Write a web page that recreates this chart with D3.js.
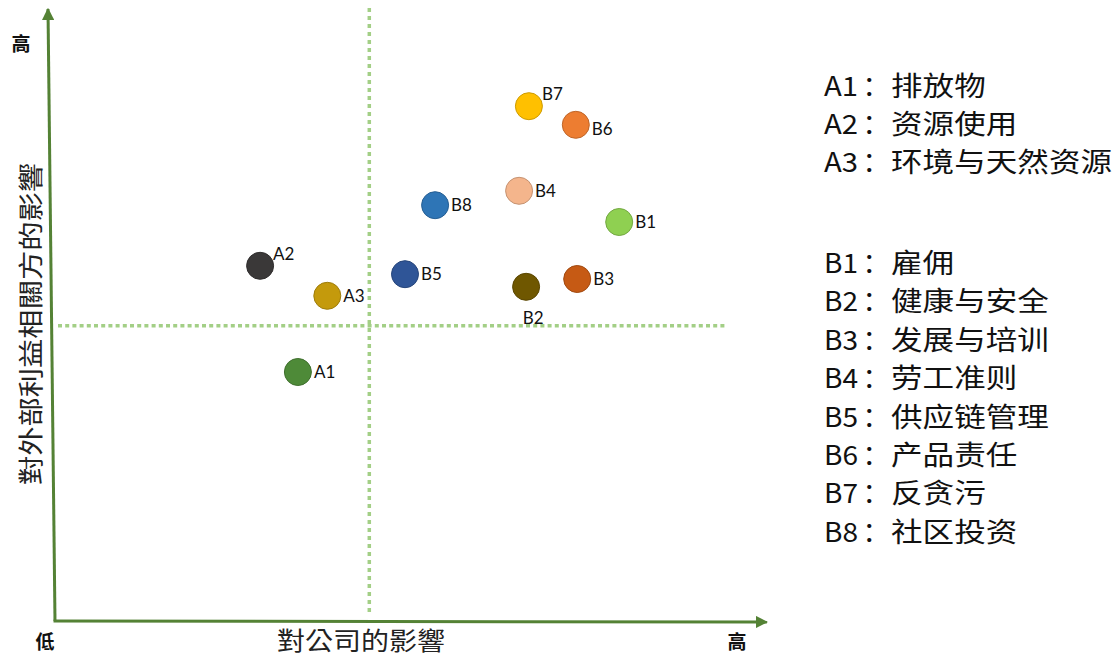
<!DOCTYPE html>
<html>
<head>
<meta charset="utf-8">
<script src="https://cdn.jsdelivr.net/npm/d3@7"></script>
<style>
  html, body { margin: 0; padding: 0; background: #ffffff; }
  svg { display: block; }
</style>
</head>
<body>
<svg id="chart" width="1120" height="659"></svg>
<script>
// ---------------- data ----------------
const codes   = ["A1", "A2", "A3", "B1", "B2", "B3", "B4", "B5", "B6", "B7", "B8"];
const companyImpact     = [34.7, 29.3, 38.9, 80.6, 67.3, 74.6, 66.3, 50.0, 74.4, 67.7, 54.3];
const stakeholderImpact = [41.5, 59.2, 54.2, 66.5, 55.7, 57.0, 71.7, 57.8, 82.7, 85.8, 69.3];
const names = ["排放物", "资源使用", "环境与天然资源",
               "雇佣", "健康与安全", "发展与培训", "劳工准则",
               "供应链管理", "产品责任", "反贪污", "社区投资"];
const xDivider = 44.9;
const yDivider = 49.2;
const xTitle = "對公司的影響";
const yTitle = "對外部利益相關方的影響";
const lowLabel = "低";
const highLabel = "高";

// ---------------- styles ----------------
const colors = ["#4e8a38", "#3a3838", "#c49a0c", "#8fd051", "#6f5700", "#c65a14",
                "#f4b58c", "#2f5597", "#ed7d31", "#ffc000", "#2e75b6"];
const labelPlacement = { A2: "ur", B7: "ur", B6: "dr", B2: "b" };

const svg = d3.select("#chart");
const x = d3.scaleLinear().domain([0, 100]).range([55, 755]);
const y = d3.scaleLinear().domain([0, 100]).range([621, 21]);

const axisColor = "#548235";
const dotColor = "#a3cf86";

// arrow marker
const defs = svg.append("defs");
defs.append("marker")
  .attr("id", "arrow").attr("viewBox", "0 0 10 10")
  .attr("refX", 9).attr("refY", 5)
  .attr("markerWidth", 4.2).attr("markerHeight", 4.2)
  .attr("markerUnits", "strokeWidth")
  .attr("orient", "auto")
  .append("path").attr("d", "M0,0 L10,5 L0,10 Z").attr("fill", axisColor);

// dotted dividers
svg.append("line")
  .attr("x1", x(xDivider)).attr("x2", x(xDivider))
  .attr("y1", 8).attr("y2", 614)
  .attr("stroke", dotColor).attr("stroke-width", 3.5)
  .attr("stroke-dasharray", "4,4");
svg.append("line")
  .attr("x1", x(0) + 3).attr("x2", x(96))
  .attr("y1", y(yDivider)).attr("y2", y(yDivider))
  .attr("stroke", dotColor).attr("stroke-width", 3.5)
  .attr("stroke-dasharray", "4,3.2");

// axes
svg.append("line")
  .attr("x1", x(0)).attr("y1", y(0))
  .attr("x2", x(-1)).attr("y2", y(102))
  .attr("stroke", axisColor).attr("stroke-width", 3)
  .attr("marker-end", "url(#arrow)");
svg.append("line")
  .attr("x1", x(0) - 1.5).attr("y1", y(0))
  .attr("x2", x(101.7)).attr("y2", y(0) + 1)
  .attr("stroke", axisColor).attr("stroke-width", 3)
  .attr("marker-end", "url(#arrow)");

// axis end labels
const endFont = "'Noto Sans CJK TC', 'Noto Sans CJK SC', sans-serif";
svg.append("text").text(highLabel).attr("x", 21).attr("y", 51)
  .attr("text-anchor", "middle").attr("font-family", endFont)
  .attr("font-size", 19).attr("font-weight", "bold").attr("fill", "#111");
svg.append("text").text(lowLabel).attr("x", 45).attr("y", 649)
  .attr("text-anchor", "middle").attr("font-family", endFont)
  .attr("font-size", 19).attr("font-weight", "bold").attr("fill", "#111");
svg.append("text").text(highLabel).attr("x", 737).attr("y", 649)
  .attr("text-anchor", "middle").attr("font-family", endFont)
  .attr("font-size", 19).attr("font-weight", "bold").attr("fill", "#111");

// axis titles
svg.append("text").text(xTitle)
  .attr("x", 277).attr("y", 650)
  .attr("font-family", endFont).attr("font-size", 25).attr("fill", "#222")
  .attr("textLength", 168).attr("lengthAdjust", "spacingAndGlyphs");
svg.append("text").text(yTitle)
  .attr("transform", "translate(40,485) rotate(-90)")
  .attr("font-family", endFont).attr("font-size", 25).attr("fill", "#222")
  .attr("textLength", 322).attr("lengthAdjust", "spacingAndGlyphs");

// points
const pts = codes.map((c, i) => ({ code: c, cx: x(companyImpact[i]), cy: y(stakeholderImpact[i]), color: colors[i] }));
svg.append("g").selectAll("circle").data(pts).join("circle")
  .attr("cx", d => d.cx).attr("cy", d => d.cy).attr("r", 13.5)
  .attr("fill", d => d.color)
  .attr("stroke", d => d3.color(d.color).darker(0.6))
  .attr("stroke-width", 1);

const offsets = { r: [16, 6], ur: [13, -6], dr: [16, 10], b: [7, 37] };
svg.append("g").selectAll("text").data(pts).join("text")
  .text(d => d.code)
  .attr("x", d => d.cx + offsets[labelPlacement[d.code] || "r"][0])
  .attr("y", d => d.cy + offsets[labelPlacement[d.code] || "r"][1])
  .attr("text-anchor", d => labelPlacement[d.code] === "b" ? "middle" : "start")
  .attr("font-family", "Lato, 'Liberation Sans', sans-serif")
  .attr("font-size", 17).attr("fill", "#111");

// legend
const legFont = "'Noto Sans CJK SC', sans-serif";
const leg = svg.append("g");
codes.forEach((c, i) => {
  const isA = c[0] === "A";
  const idx = isA ? i : i - 3;
  const baseY = isA ? 96 + idx * 37.8 : 273 + idx * 38.4;
  leg.append("text")
    .attr("x", 824).attr("y", baseY)
    .attr("font-family", legFont).attr("font-size", 27).attr("fill", "#111")
    .attr("textLength", 34).attr("lengthAdjust", "spacingAndGlyphs")
    .text(c);
  leg.append("text")
    .attr("x", 876).attr("y", baseY)
    .attr("text-anchor", "middle")
    .attr("font-family", legFont).attr("font-size", 27).attr("fill", "#111")
    .text("：");
  leg.append("text")
    .attr("transform", `translate(891,${baseY}) scale(1.17,1)`)
    .attr("font-family", legFont).attr("font-size", 27).attr("fill", "#111")
    .text(names[i]);
});
</script>
</body>
</html>
